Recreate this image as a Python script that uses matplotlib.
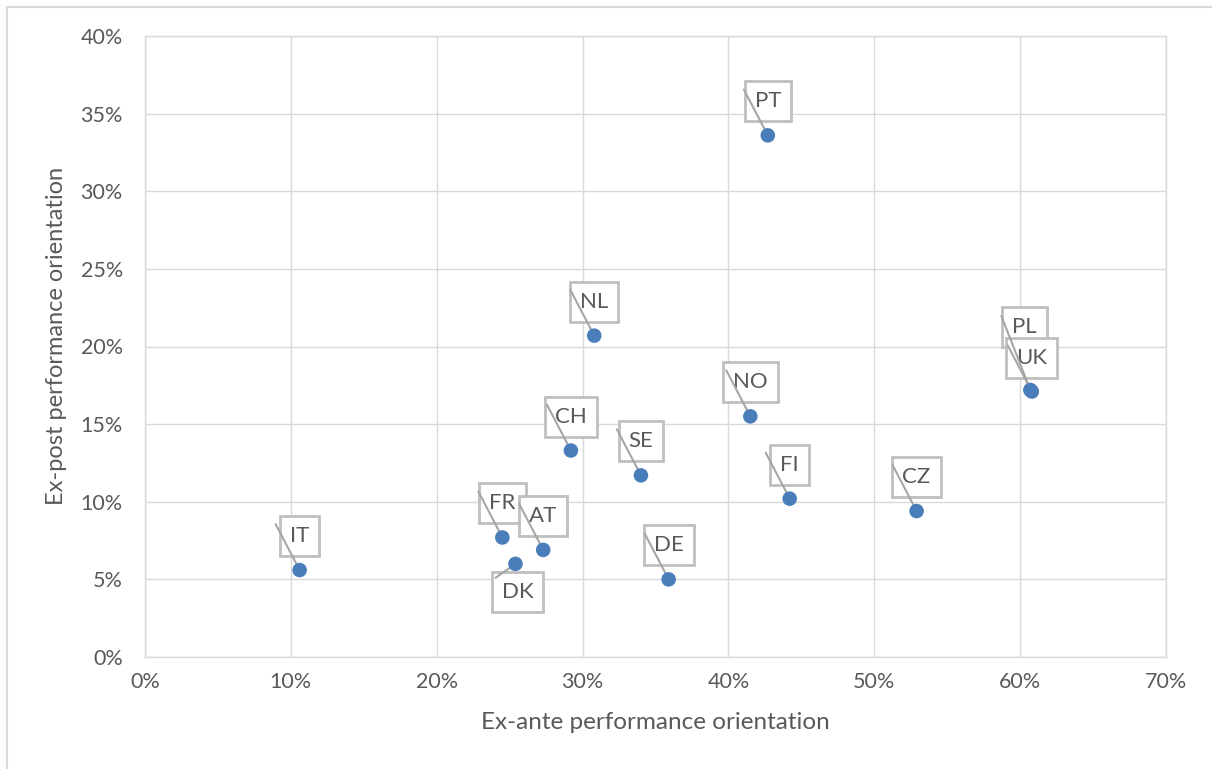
import matplotlib.pyplot as plt
from matplotlib.patches import Rectangle
from matplotlib.ticker import FuncFormatter

# datos (en %)
paises = ['IT', 'FR', 'DK', 'AT', 'CH', 'NL', 'SE', 'DE', 'PT', 'NO', 'FI', 'CZ', 'PL', 'UK']
ex_ante = [10.6, 24.5, 25.4, 27.3, 29.2, 30.8, 34.0, 35.9, 42.7, 41.5, 44.2, 52.9, 60.7, 60.8]
ex_post = [5.6, 7.7, 6.0, 6.9, 13.3, 20.7, 11.7, 5.0, 33.6, 15.5, 10.2, 9.4, 17.2, 17.1]

# desplazamiento de etiquetas (px): centro de caja y extremo de linea
offs_caja = {'DK': (2, -28), 'PL': (-6, 63)}
offs_linea = {'DK': (-20, -14), 'PL': (-29, 74)}

plt.rcParams['font.family'] = ['Lato', 'DejaVu Sans']
gris_txt = '#595959'
gris_lin = '#d9d9d9'
azul = '#4a7ebb'

fig = plt.figure(figsize=(12.12, 7.69), dpi=100)
ax = fig.add_axes([145/1212, 1-657/769, (1166-145)/1212, (657-36)/769])

fig.patches.append(Rectangle((7/1212, -0.05), 1.0, 1.05-7/769, transform=fig.transFigure,
                             fill=False, edgecolor='#d9d9d9', lw=1.5))

ax.set_xlim(0, 70)
ax.set_ylim(0, 40)
ax.set_xticks(range(0, 71, 10))
ax.set_yticks(range(0, 41, 5))
ax.xaxis.set_major_formatter(FuncFormatter(lambda v, p: f'{v:.0f}%'))
ax.yaxis.set_major_formatter(FuncFormatter(lambda v, p: f'{v:.0f}%'))
ax.grid(True, color=gris_lin, lw=1)
ax.set_axisbelow(True)
for s in ax.spines.values():
    s.set_color(gris_lin)
    s.set_linewidth(1)
ax.tick_params(length=0, labelsize=15.5, labelcolor=gris_txt)
ax.tick_params(axis='y', pad=16)
ax.tick_params(axis='x', pad=11)

ax.set_xlabel('Ex-ante performance orientation', fontsize=17.5, color=gris_txt, labelpad=14)
ax.set_ylabel('Ex-post performance orientation', fontsize=17, color=gris_txt)
ax.yaxis.set_label_coords(-0.076, 0.517)

k = 0.72  # px -> pt
for p, x, y in zip(paises, ex_ante, ex_post):
    cx, cy = offs_caja.get(p, (0, 34))
    lx, ly = offs_linea.get(p, (-24, 46))
    ax.annotate(p, (x, y), xytext=(cx*k, cy*k), textcoords='offset points',
                ha='center', va='center', fontsize=16, color=gris_txt, zorder=3,
                bbox=dict(boxstyle='square,pad=0.45', fc='white', ec='#bfbfbf', lw=2))
    ax.annotate('', (x, y), xytext=(lx*k, ly*k), textcoords='offset points', zorder=4,
                arrowprops=dict(arrowstyle='-', color='#a6a6a6', lw=1.5,
                                shrinkA=0, shrinkB=0))

ax.scatter(ex_ante, ex_post, s=110, color=azul, zorder=5, edgecolors='none')

fig.savefig('out.png', dpi=100)
